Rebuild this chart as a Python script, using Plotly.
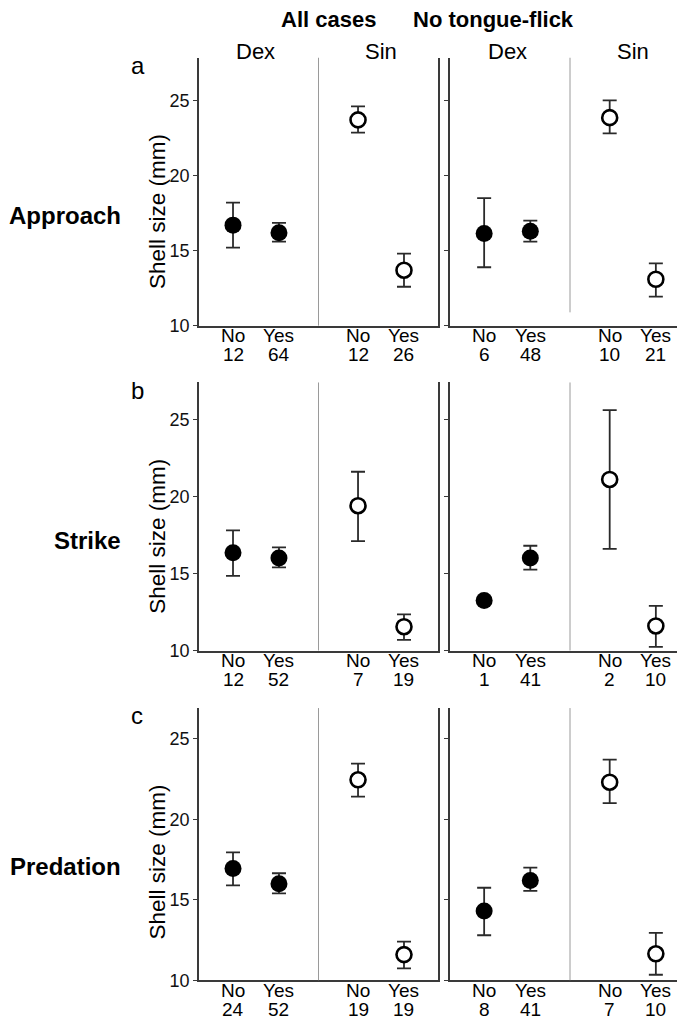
import plotly.graph_objects as go

# ---- data ----
side = ["Dex", "Dex", "Sin", "Sin"]
response = ["No", "Yes", "No", "Yes"]

approach_all_mean = [16.7, 16.2, 23.7, 13.7]
approach_all_hi = [18.2, 16.85, 24.6, 14.8]
approach_all_lo = [15.2, 15.6, 22.85, 12.6]
approach_all_n = [12, 64, 12, 26]

approach_ntf_mean = [16.15, 16.3, 23.85, 13.1]
approach_ntf_hi = [18.5, 17.0, 25.0, 14.15]
approach_ntf_lo = [13.9, 15.6, 22.8, 11.95]
approach_ntf_n = [6, 48, 10, 21]

strike_all_mean = [16.35, 16.0, 19.4, 11.55]
strike_all_hi = [17.8, 16.7, 21.6, 12.35]
strike_all_lo = [14.85, 15.4, 17.1, 10.7]
strike_all_n = [12, 52, 7, 19]

strike_ntf_mean = [13.25, 16.0, 21.1, 11.6]
strike_ntf_hi = [13.25, 16.8, 25.6, 12.9]
strike_ntf_lo = [13.25, 15.25, 16.6, 10.25]
strike_ntf_n = [1, 41, 2, 10]

predation_all_mean = [16.95, 16.0, 22.45, 11.6]
predation_all_hi = [17.95, 16.65, 23.45, 12.4]
predation_all_lo = [15.9, 15.4, 21.4, 10.75]
predation_all_n = [24, 52, 19, 19]

predation_ntf_mean = [14.3, 16.2, 22.3, 11.65]
predation_ntf_hi = [15.75, 17.0, 23.7, 12.95]
predation_ntf_lo = [12.8, 15.55, 21.0, 10.35]
predation_ntf_n = [8, 41, 7, 10]

row_names = ["Approach", "Strike", "Predation"]
row_letters = ["a", "b", "c"]
col_names = ["All cases", "No tongue-flick"]
y_ticks = [10, 15, 20, 25]

panels = [
    [(approach_all_mean, approach_all_hi, approach_all_lo, approach_all_n),
     (approach_ntf_mean, approach_ntf_hi, approach_ntf_lo, approach_ntf_n)],
    [(strike_all_mean, strike_all_hi, strike_all_lo, strike_all_n),
     (strike_ntf_mean, strike_ntf_hi, strike_ntf_lo, strike_ntf_n)],
    [(predation_all_mean, predation_all_hi, predation_all_lo, predation_all_n),
     (predation_ntf_mean, predation_ntf_hi, predation_ntf_lo, predation_ntf_n)],
]

# ---- layout / style ----
W, H = 685, 1021
FONT = "Liberation Sans, Arial, sans-serif"
AXC = "#3a3a3a"
xpos = [0.74, 1.74, 3.46, 4.46]
sep_x = 2.6
xrange_ = [0, 5.2]
row_px = [(50, 321), (378, 649), (707, 982)]
y_top = [27.85, 27.4, 26.9]
col_px = [(191, 430), (442, 682)]
sep_bottom = [[10, 10.9], [10, 10], [10, 10]]

fig = go.Figure()
annotations = []
shapes = []

for r in range(3):
    for c in range(2):
        idx = r * 2 + c + 1
        xa = "x" if idx == 1 else f"x{idx}"
        ya = "y" if idx == 1 else f"y{idx}"
        mean, hi, lo, n = panels[r][c]
        for k in range(4):
            dex = side[k] == "Dex"
            fig.add_trace(go.Scatter(
                x=[xpos[k]], y=[mean[k]], mode="markers",
                xaxis=xa, yaxis=ya, showlegend=False, hoverinfo="skip",
                marker=dict(size=17 if dex else 15,
                            color="black" if dex else "white",
                            line=dict(width=0 if dex else 2.6, color="black")),
                error_y=dict(type="data", symmetric=False,
                             array=[hi[k] - mean[k]], arrayminus=[mean[k] - lo[k]],
                             color="#2a2a2a", thickness=1.8, width=7,
                             visible=(hi[k] - lo[k]) > 0),
            ))
            # x category labels and counts
            annotations.append(dict(x=xpos[k], y=0, xref=xa, yref=f"{ya} domain",
                                    text=response[k], showarrow=False, yanchor="middle",
                                    yshift=-10, borderpad=0,
                                    font=dict(family=FONT, size=19, color="black")))
            annotations.append(dict(x=xpos[k], y=0, xref=xa, yref=f"{ya} domain",
                                    text=str(n[k]), showarrow=False, yanchor="middle",
                                    yshift=-29, borderpad=0,
                                    font=dict(family=FONT, size=19, color="black")))
        # separator
        shapes.append(dict(type="line", xref=xa, yref=ya, x0=sep_x, x1=sep_x,
                           y0=sep_bottom[r][c], y1=y_top[r],
                           line=dict(color="#9a9a9a", width=1)))
        x0p, x1p = col_px[c]
        y0p, y1p = row_px[r]
        fig.layout[f"xaxis{'' if idx == 1 else idx}"] = dict(
            domain=[x0p / W, x1p / W], range=xrange_, anchor=ya,
            showgrid=False, zeroline=False, showticklabels=False, ticks="",
            showline=True, linecolor=AXC, linewidth=1.5)
        fig.layout[f"yaxis{'' if idx == 1 else idx}"] = dict(
            domain=[1 - y1p / H, 1 - y0p / H], range=[10, y_top[r]], anchor=xa,
            showgrid=False, zeroline=False, tickvals=y_ticks,
            showticklabels=(c == 0), ticks="outside", ticklen=4, tickcolor=AXC,
            tickwidth=1, showline=True, linecolor=AXC, linewidth=1.5, mirror=True,
            tickfont=dict(family=FONT, size=18, color="#111"))
        # Dex / Sin headers on top row
        if r == 0:
            for s, (a, b) in zip(["Dex", "Sin"], [(0, 1), (2, 3)]):
                annotations.append(dict(x=(xpos[a] + xpos[b]) / 2, y=1 - 44 / H,
                                        xref=xa, yref="paper", text=s, showarrow=False,
                                        yanchor="middle",
                                        font=dict(family=FONT, size=22, color="black")))
    # row labels
    y0p, y1p = row_px[r]
    annotations.append(dict(x=114 / W, y=1 - (y0p + 160) / H, xref="paper", yref="paper",
                            text=f"<b>{row_names[r]}</b>", showarrow=False,
                            xanchor="right", yanchor="middle", borderpad=0,
                            font=dict(family=FONT, size=24, color="black")))
    annotations.append(dict(x=121 / W, y=1 - (y0p + 8) / H, xref="paper", yref="paper",
                            text=row_letters[r], showarrow=False, yanchor="middle",
                            font=dict(family=FONT, size=24, color="black")))
    annotations.append(dict(x=150 / W, y=1 - (y0p + 156) / H, xref="paper", yref="paper",
                            text="Shell size (mm)", showarrow=False, textangle=-90,
                            xanchor="center", yanchor="middle", borderpad=0,
                            font=dict(family=FONT, size=22.5, color="black")))

for c, name in enumerate(col_names):
    cx = [320.5, 568][c]
    annotations.append(dict(x=cx / W, y=1 - 12 / H, xref="paper", yref="paper",
                            text=f"<b>{name}</b>", showarrow=False, yanchor="middle",
                            font=dict(family=FONT, size=22, color="black")))

fig.update_layout(width=W, height=H, margin=dict(l=0, r=0, t=0, b=0),
                  paper_bgcolor="white", plot_bgcolor="white",
                  annotations=annotations, shapes=shapes, showlegend=False)

fig.write_html("out.html")
